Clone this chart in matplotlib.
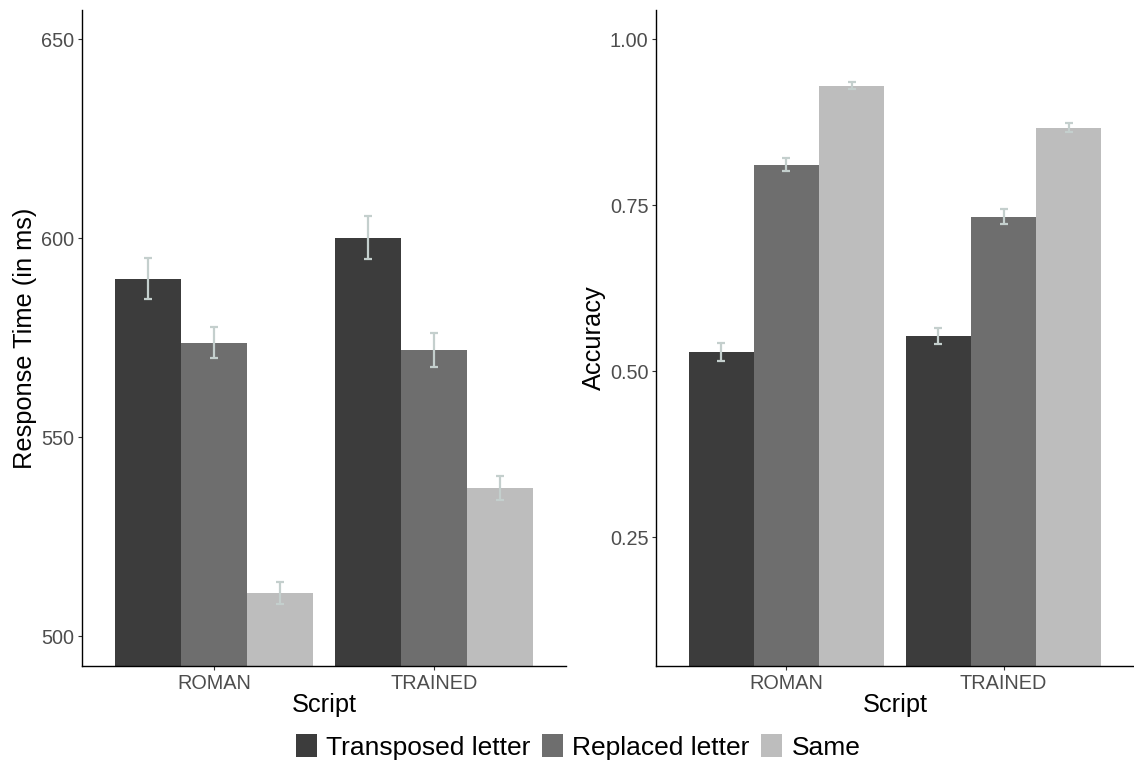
import numpy as np
import matplotlib
matplotlib.use('Agg')
import matplotlib.pyplot as plt
from matplotlib.patches import Patch

plt.rcParams['font.family'] = ['Liberation Sans', 'DejaVu Sans']

scripts = ['ROMAN', 'TRAINED']
conditions = ['Transposed letter', 'Replaced letter', 'Same']
colors = ['#3c3c3c', '#6e6e6e', '#bdbdbd']

# response time (ms): rows = condition, cols = script
rt_mean = [[589.9, 600.2], [573.7, 572.0], [510.8, 537.3]]
rt_err = [[5.2, 5.4], [3.9, 4.3], [2.75, 3.0]]

# accuracy
acc_mean = [[0.529, 0.553], [0.811, 0.733], [0.930, 0.867]]
acc_err = [[0.013, 0.012], [0.010, 0.011], [0.005, 0.0065]]

fig = plt.figure(figsize=(11.34, 7.71), dpi=100)
W, H = 1134, 771
ax1 = fig.add_axes([82 / W, 1 - 666 / H, (566 - 82) / W, (666 - 10) / H])
ax2 = fig.add_axes([656 / W, 1 - 666 / H, (1134 - 656) / W, (666 - 10) / H])

x = np.arange(1, len(scripts) + 1)
bw = 0.3


def draw(ax, means, errs, ylim, yticks, yticklabels, ylabel):
    for i, cond in enumerate(conditions):
        pos = x + (i - 1) * bw
        ax.bar(pos, means[i], width=bw, color=colors[i], zorder=2)
        ax.errorbar(pos, means[i], yerr=errs[i], fmt='none', ecolor='#c4cfcd',
                    elinewidth=1.6, capsize=3, capthick=1.6, zorder=3)
    ax.set_xlim(0.4, 2.6)
    ax.set_ylim(*ylim)
    ax.set_yticks(yticks)
    ax.set_yticklabels(yticklabels)
    ax.set_xticks(x)
    ax.set_xticklabels(scripts)
    ax.tick_params(axis='both', colors='#333333', labelcolor='#4d4d4d',
                   labelsize=14.3, length=3, width=0.8, pad=2.5)
    for s in ['top', 'right']:
        ax.spines[s].set_visible(False)
    for s in ['left', 'bottom']:
        ax.spines[s].set_linewidth(1.0)
        ax.spines[s].set_color('black')
    ax.set_xlabel('Script', fontsize=18.3, labelpad=0)
    ax.set_ylabel(ylabel, fontsize=18.3, labelpad=3)


draw(ax1, rt_mean, rt_err, (492.5, 657.4), [500, 550, 600, 650],
     ['500', '550', '600', '650'], 'Response Time (in ms)')
draw(ax2, acc_mean, acc_err, (0.0561, 1.044), [0.25, 0.5, 0.75, 1.0],
     ['0.25', '0.50', '0.75', '1.00'], 'Accuracy')

handles = [Patch(facecolor=c, edgecolor='none') for c in colors]
fig.legend(handles, conditions, loc='center', bbox_to_anchor=(578 / W, 1 - 747 / H),
           ncol=3, frameon=False, fontsize=19, handlelength=0.8, handleheight=0.95,
           handletextpad=0.34, columnspacing=0.45)

fig.savefig('out.png', dpi=100)
